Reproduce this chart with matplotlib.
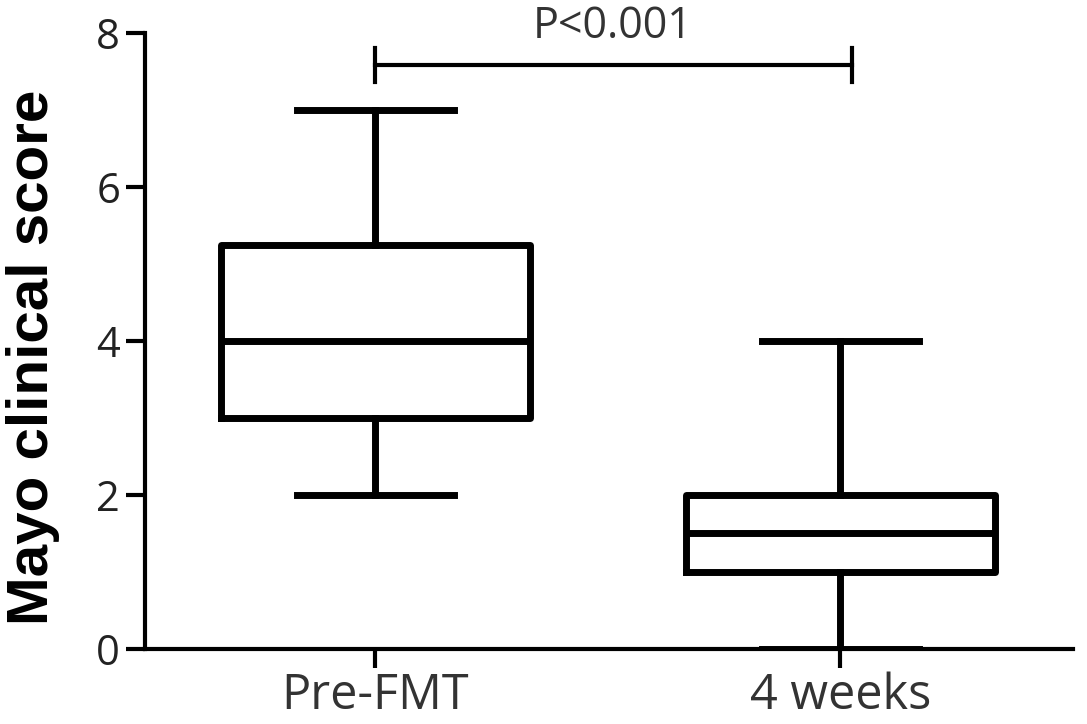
import matplotlib
matplotlib.use('Agg')
import matplotlib.pyplot as plt

# =====================
# DATA
# =====================
groups = ['Pre-FMT', '4 weeks']
whislo = [2, 0]
q1 = [3, 1]
med = [4, 1.5]
q3 = [5.25, 2]
whishi = [7, 4]
p_text = 'P<0.001'

stats = []
for i, g in enumerate(groups):
    stats.append({'label': g, 'whislo': whislo[i], 'q1': q1[i], 'med': med[i],
                  'q3': q3[i], 'whishi': whishi[i], 'fliers': []})

# =====================
# PLOT
# =====================
fig = plt.figure(figsize=(10.87, 7.24), dpi=100)
ax = fig.add_axes([0.1334, 0.1036, 0.8537, 0.8508])

lw = 5
ax.bxp(stats, positions=[1, 2], widths=0.665, capwidths=0.338, showfliers=False,
       boxprops=dict(linewidth=lw, color='black'),
       whiskerprops=dict(linewidth=lw, color='black'),
       capprops=dict(linewidth=lw, color='black'),
       medianprops=dict(linewidth=lw, color='black'))

ax.set_xlim(0.505, 2.5)
ax.set_ylim(0, 8)
ax.set_yticks([0, 2, 4, 6, 8])

for s in ['top', 'right']:
    ax.spines[s].set_visible(False)
for s in ['left', 'bottom']:
    ax.spines[s].set_linewidth(3)

ax.tick_params(axis='both', width=3, length=14, direction='out', colors='black')
ax.tick_params(axis='x', labelsize=35, pad=2, labelcolor='#333333')
ax.tick_params(axis='y', labelsize=30, pad=4, labelcolor='#222222')
for lab in ax.get_xticklabels() + ax.get_yticklabels():
    lab.set_family('Open Sans')

ax.set_ylabel('Mayo clinical score', fontsize=42, fontweight='bold',
              family='Liberation Sans')
ax.yaxis.set_label_coords(-0.092, 0.474)

# significance bar
x1, x2, yb = 1, 2.026, 7.58
ax.plot([x1, x2], [yb, yb], color='black', lw=3, clip_on=False)
ax.plot([x1, x1], [yb - 0.22, yb + 0.22], color='black', lw=3, clip_on=False)
ax.plot([x2, x2], [yb - 0.22, yb + 0.22], color='black', lw=3, clip_on=False)
ax.text(1.51, 8.08, p_text, ha='center', va='center', fontsize=31,
        family='Open Sans', color='#333333', clip_on=False)

fig.savefig('out.png', dpi=100)
